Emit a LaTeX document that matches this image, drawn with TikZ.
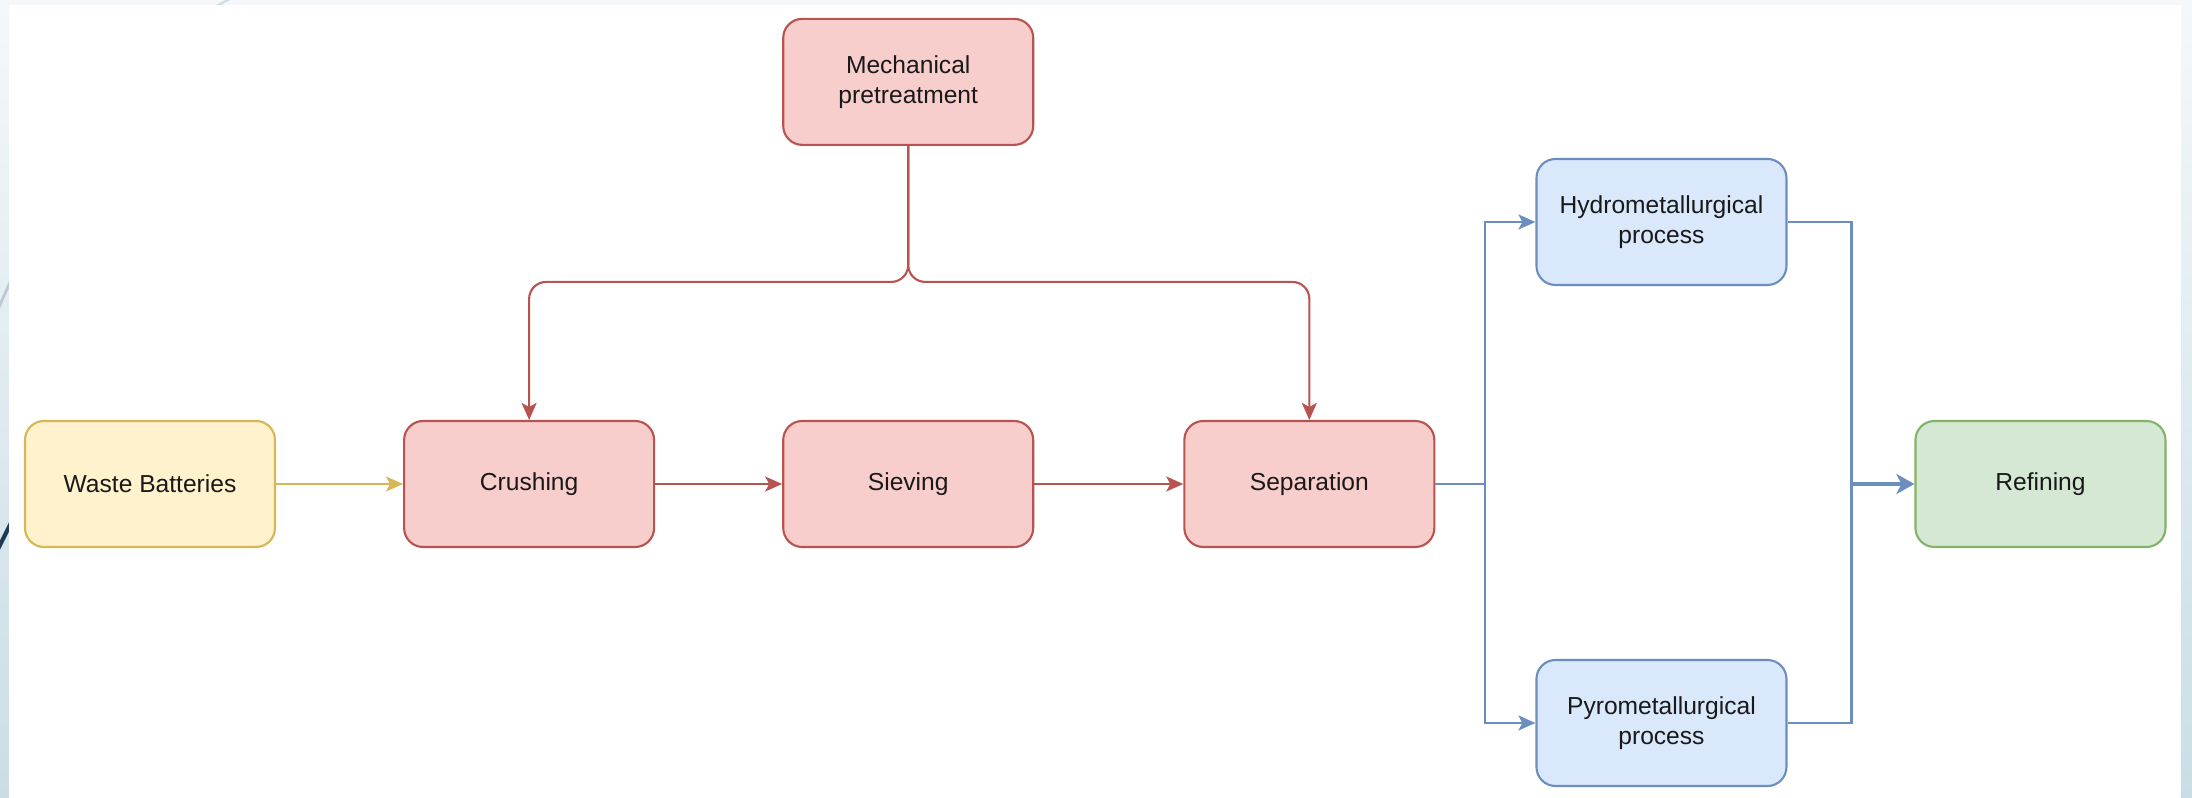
\documentclass[tikz,border=0pt]{standalone}
\usepackage{fontspec}
\setmainfont{Liberation Sans}
\usetikzlibrary{shapes, arrows.meta, positioning, calc}

\definecolor{ylwfill}{HTML}{FFF2CC}
\definecolor{ylwline}{HTML}{D6B656}
\definecolor{redfill}{HTML}{F8CECC}
\definecolor{redline}{HTML}{B85450}
\definecolor{blufill}{HTML}{DAE8FC}
\definecolor{bluline}{HTML}{6C8EBF}
\definecolor{grnfill}{HTML}{D5E8D4}
\definecolor{grnline}{HTML}{82B366}
\definecolor{slidetop}{HTML}{F4F8FA}
\definecolor{slidebot}{HTML}{CADDE6}
\definecolor{slidenavy}{HTML}{1F3A52}

\tikzset{
	proc/.style={rectangle, rounded corners=0.19cm, minimum width=2.5cm, minimum height=1.26cm,
		align=center, line width=0.6pt, text=black!90, font=\fontsize{7}{8.5}\selectfont},
	yproc/.style={proc, draw=ylwline, fill=ylwfill},
	rproc/.style={proc, draw=redline, fill=redfill},
	bproc/.style={proc, draw=bluline, fill=blufill},
	gproc/.style={proc, draw=grnline, fill=grnfill},
	flow/.style={-{Stealth[length=0.17cm, width=0.15cm, inset=0.04cm]}, line width=0.6pt}
}

\begin{document}
\begin{tikzpicture}[node distance=1.27cm]
	% slide background
	\useasboundingbox (0,0) rectangle (21.92,-7.98);
	\shade[top color=slidetop, bottom color=slidebot] (0,0) rectangle (21.92,-7.98);
	\begin{scope}
		\clip (0,0) rectangle (21.92,-7.98);
		\draw[slidenavy, line width=1.2pt] (-0.05,-5.55) -- (0.2,-5.05);
		\draw[slidebot!80!gray, line width=0.8pt] (-0.05,-3.16) -- (0.2,-2.6);
		\draw[slidebot, line width=0.6pt] (2.12,-0.08) -- (2.32,0.02);
	\end{scope}
	\fill[white] (0.09,-0.05) rectangle (21.81,-7.98);

	\node[yproc] (waste) at (1.50,-4.84) {Waste Batteries};
	\node[rproc, right=of waste] (crush) {Crushing};
	\node[rproc, right=of crush] (sieve) {Sieving};
	\node[rproc, right=1.49cm of sieve] (separ) {Separation};
	\node[rproc, above=2.74cm of sieve] (mech) {Mechanical\\pretreatment};
	\node[bproc, right=1cm of separ, yshift=2.62cm] (hydro) {Hydrometallurgical\\process};
	\node[bproc, right=1cm of separ, yshift=-2.39cm] (pyro) {Pyrometallurgical\\process};
	\node[gproc, right=4.79cm of separ] (refin) {Refining};

	\draw[flow, ylwline] (waste) -- (crush);
	\foreach \from/\to in {crush/sieve, sieve/separ}
		\draw[flow, redline] (\from) -- (\to);
	\foreach \to in {crush, separ}
		\draw[flow, redline, rounded corners=0.17cm] (mech.south) -- ++(0,-1.36) -| (\to.north);
	\foreach \to in {hydro, pyro}
		\draw[flow, bluline] (separ.east) -- ++(0.5,0) |- (\to.west);
	\draw[bluline, line width=0.6pt] (hydro.east) -- ++(0.64,0) coordinate (merge) |- (pyro.east);
	\draw[-{Stealth[length=0.18cm, width=0.2cm, inset=0.05cm]}, bluline, line width=1.2pt] (merge |- refin.west) -- (refin.west);
\end{tikzpicture}
\end{document}
